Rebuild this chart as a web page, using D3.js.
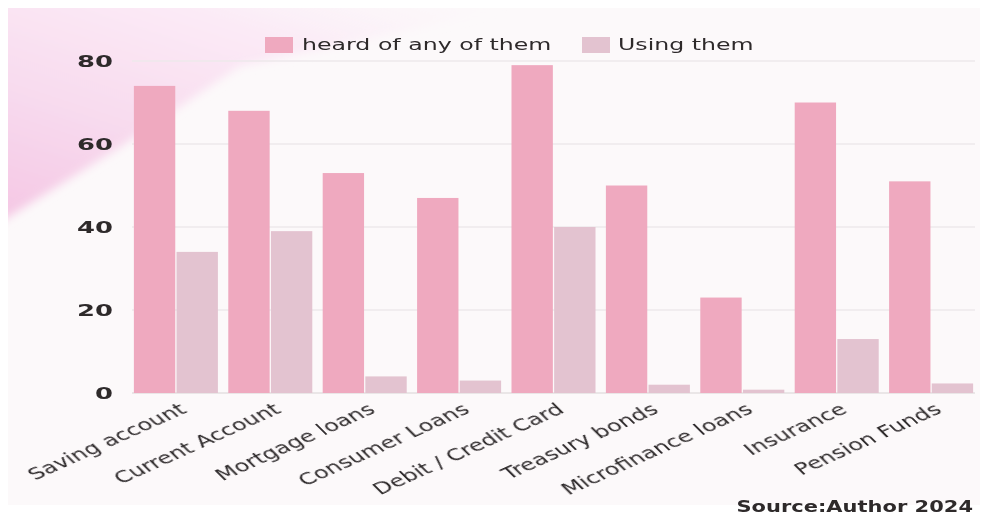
<!DOCTYPE html>
<html>
<head>
<meta charset="utf-8">
<script src="https://cdn.jsdelivr.net/npm/d3@7"></script>
<style>
  html, body { margin: 0; padding: 0; background: #ffffff; }
  svg { display: block; }
  text { font-family: "DejaVu Sans", sans-serif; fill: #2e2a2c; }
</style>
</head>
<body>
<svg id="chart" width="987" height="515"></svg>
<script>
// Awareness vs. usage of financial products (%)
const categories = [
  "Saving account", "Current Account", "Mortgage loans", "Consumer Loans",
  "Debit / Credit Card", "Treasury bonds", "Microfinance loans", "Insurance", "Pension Funds"
];
const heardValues = [74, 68, 53, 47, 79, 50, 23, 70, 51];
const usingValues = [34, 39, 4, 3, 40, 2, 0.8, 13, 2.3];
const seriesNames = ["heard of any of them", "Using them"];
const yTicks = [0, 20, 40, 60, 80];
const sourceNote = "Source:Author 2024";

const colors = { heard: "#efa9bf", using: "#e3c3d0" };

const svg = d3.select("#chart");
const plot = { left: 132, right: 975, top: 61, bottom: 393 };

const defs = svg.append("defs");
// soft pink wash in the upper-left corner: deeper at the lower left, fading towards the top right
const grad = defs.append("linearGradient")
  .attr("id", "wash").attr("x1", "0").attr("y1", "0.85").attr("x2", "0.7").attr("y2", "0");
grad.append("stop").attr("offset", "0").attr("stop-color", "#f5c9e5").attr("stop-opacity", 1);
grad.append("stop").attr("offset", "0.35").attr("stop-color", "#f8dcef").attr("stop-opacity", 1);
grad.append("stop").attr("offset", "0.7").attr("stop-color", "#fbeaf6").attr("stop-opacity", 1);
grad.append("stop").attr("offset", "1").attr("stop-color", "#fcf4f9").attr("stop-opacity", 0);
defs.append("filter").attr("id", "soft").attr("x", "-20%").attr("y", "-20%").attr("width", "140%").attr("height", "140%")
  .append("feGaussianBlur").attr("stdDeviation", 5);
defs.append("filter").attr("id", "textSoft")
  .append("feGaussianBlur").attr("stdDeviation", 0.45);
defs.append("clipPath").attr("id", "card")
  .append("rect").attr("x", 8).attr("y", 8).attr("width", 972).attr("height", 497);

svg.append("rect").attr("x", 8).attr("y", 8).attr("width", 972).attr("height", 497)
  .attr("fill", "#fcf9fa");
svg.append("g").attr("clip-path", "url(#card)")
  .append("path")
  .attr("d", "M-20,-20 L620,-20 L420,28 L240,66 L120,147 L-20,235 Z")
  .attr("fill", "url(#wash)")
  .attr("filter", "url(#soft)");

// scales
const x0 = d3.scaleBand().domain(categories).range([plot.left, plot.right])
  .paddingInner(0.11).paddingOuter(0.02);
const x1 = d3.scaleBand().domain(["heard", "using"]).range([0, x0.bandwidth()]).paddingInner(0.03);
const y = d3.scaleLinear().domain([0, 80]).range([plot.bottom, plot.top]);

// gridlines
svg.append("g").selectAll("line").data(yTicks).join("line")
  .attr("x1", plot.left).attr("x2", plot.right)
  .attr("y1", d => y(d)).attr("y2", d => y(d))
  .attr("stroke", d => d === 0 ? "#e4dfe1" : "#eee9eb")
  .attr("stroke-width", 1.5);

// y tick labels (wide, flattened numerals)
const yAxis = d3.axisLeft(y).tickValues(yTicks).tickSize(0).tickPadding(0);
const yg = svg.append("g").attr("transform", "translate(113,0)").call(yAxis);
yg.select(".domain").remove();
yg.selectAll("text")
  .attr("x", 0).attr("dy", "0.36em")
  .attr("font-size", 15).attr("font-weight", 600)
  .attr("fill", "#333")
  .attr("transform", "scale(1.72,1)")
  .attr("filter", "url(#textSoft)");

// bars
const groups = svg.append("g").selectAll("g").data(categories).join("g")
  .attr("transform", d => `translate(${x0(d)},0)`);
groups.append("rect")
  .attr("x", x1("heard")).attr("width", x1.bandwidth())
  .attr("y", (d, i) => y(heardValues[i]))
  .attr("height", (d, i) => y(0) - y(heardValues[i]))
  .attr("fill", colors.heard);
groups.append("rect")
  .attr("x", x1("using")).attr("width", x1.bandwidth())
  .attr("y", (d, i) => y(usingValues[i]))
  .attr("height", (d, i) => y(0) - y(usingValues[i]))
  .attr("fill", colors.using);

// x axis labels, rotated
const xg = svg.append("g");
xg.selectAll("text").data(categories).join("text")
  .attr("transform", d => `translate(${x0(d) + x0.bandwidth() / 2 + 12},${plot.bottom + 19}) scale(1.5,1) rotate(-34)`)
  .attr("text-anchor", "end")
  .attr("font-size", 16)
  .attr("filter", "url(#textSoft)")
  .text(d => d);

// legend
const legendItems = [
  { name: seriesNames[0], color: colors.heard, x: 265, tx: 302 },
  { name: seriesNames[1], color: colors.using, x: 582, tx: 618 }
];
const lg = svg.append("g");
legendItems.forEach(item => {
  lg.append("rect").attr("x", item.x).attr("y", 37).attr("width", 28).attr("height", 16)
    .attr("fill", item.color);
  lg.append("text")
    .attr("transform", `translate(${item.tx},50) scale(1.48,1)`)
    .attr("font-size", 16)
    .attr("filter", "url(#textSoft)")
    .text(item.name);
});

// source note
svg.append("text")
  .attr("transform", "translate(973,512) scale(1.4,1)")
  .attr("text-anchor", "end")
  .attr("font-size", 15).attr("font-weight", 600)
  .attr("fill", "#111")
  .attr("filter", "url(#textSoft)")
  .text(sourceNote);
</script>
</body>
</html>
